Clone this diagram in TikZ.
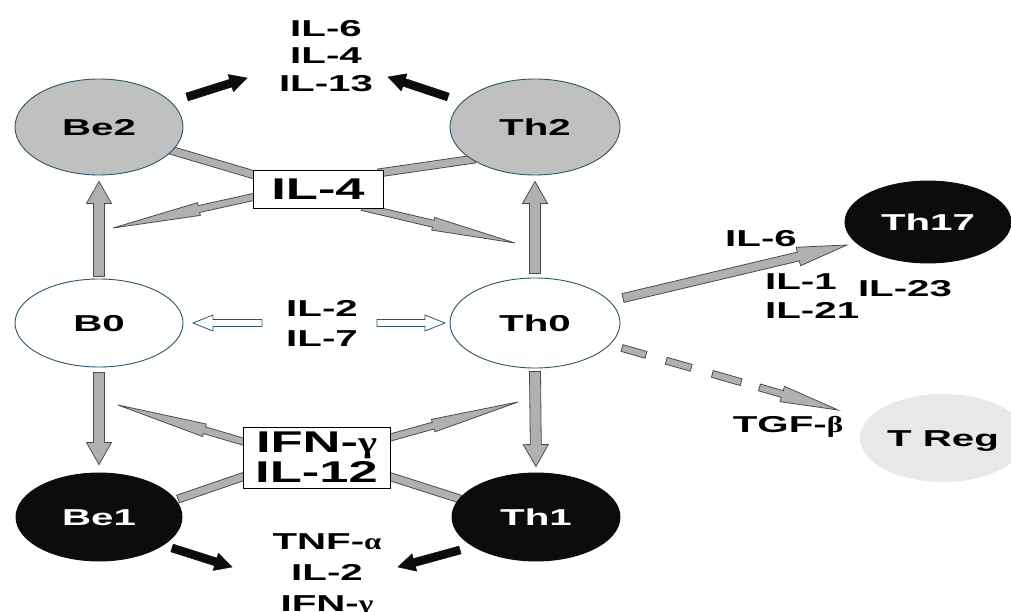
\documentclass[tikz,border=0pt]{standalone}
\usepackage{fontspec}
\setmainfont{Liberation Sans}[FakeStretch=1.75]
\newfontfamily\grk{Liberation Serif}[FakeStretch=1.35]
\newcommand\gk[1]{{\grk\bfseries #1}}
\usetikzlibrary{shapes.geometric,calc}
\pgfdeclarelayer{bg}\pgfsetlayers{bg,main}
\definecolor{cellg}{RGB}{192,192,192}
\definecolor{arrowg}{RGB}{176,176,176}
\definecolor{arrowedge}{RGB}{75,75,80}
\definecolor{edgec}{RGB}{45,85,105}
\definecolor{tregc}{RGB}{230,232,234}
\definecolor{darkc}{RGB}{12,12,12}
% block arrow: [style]{from}{to}{half shaft}{half head}{head length}
\newcommand\blockarrow[6]{%
  \coordinate (tmpH) at ($(#3)!#6!(#2)$);
  \draw[#1] ($(#2)!#4!90:(#3)$) -- ($(tmpH)!#4!-90:(#2)$) -- ($(tmpH)!#5!-90:(#2)$) -- (#3)
    -- ($(tmpH)!#5!90:(#2)$) -- ($(tmpH)!#4!90:(#2)$) -- ($(#2)!#4!-90:(#3)$) -- cycle;}
% band: [style]{from}{to}{half width}
\newcommand\band[4]{%
  \draw[#1] ($(#2)!#4!90:(#3)$) -- ($(#3)!#4!-90:(#2)$) -- ($(#3)!#4!90:(#2)$) -- ($(#2)!#4!-90:(#3)$) -- cycle;}
\begin{document}
\begin{tikzpicture}[x=1pt,y=-1pt,
  font=\fontsize{23}{27.5}\selectfont\bfseries,
  cell/.style={ellipse, draw=edgec, line width=0.9pt, inner sep=0pt, text height=16.5pt, text depth=0pt},
  lbl/.style={inner sep=0pt, align=center},
  boxlbl/.style={draw=black, line width=0.9pt, fill=white, inner sep=0pt, align=center, font=\fontsize{30}{30}\selectfont\bfseries},
  garrow/.style={fill=arrowg, draw=arrowedge, line width=0.8pt, line join=miter},
  karrow/.style={fill=darkc, draw=darkc, line width=0.5pt, line join=miter},
  warrow/.style={fill=white, draw=edgec, line width=0.8pt, line join=miter}]
\useasboundingbox (0,0) rectangle (1011,612);

% cells
\node[cell, fill=cellg, minimum width=168pt, minimum height=96pt] (Be2) at (99,127) {Be2};
\node[cell, fill=cellg, minimum width=170pt, minimum height=96pt] (Th2) at (535,127) {Th2};
\node[cell, fill=white, minimum width=168pt, minimum height=88pt] (B0) at (99,323) {B0};
\node[cell, fill=white, minimum width=170pt, minimum height=90pt] (Th0) at (535,323) {Th0};
\node[cell, fill=darkc, draw=darkc, text=white, minimum width=166pt, minimum height=88pt] (Be1) at (99,517) {Be1};
\node[cell, fill=darkc, draw=darkc, text=white, minimum width=168pt, minimum height=88pt] (Th1) at (536,517) {Th1};
\node[cell, fill=darkc, draw=darkc, text=white, minimum width=166pt, minimum height=82pt] (Th17) at (928,222) {Th17};
\node[cell, fill=tregc, draw=none, minimum width=166pt, minimum height=88pt] (TReg) at (943,438) {T Reg};

% boxes
\node[boxlbl, minimum width=130pt, minimum height=38pt] (IL4box) at (318,189) {IL-4};
\node[boxlbl, minimum width=147pt, minimum height=61pt] (IFNbox) at (316.5,457.5) {IFN-\gk{γ}\\IL-12};

% labels
\node[lbl, anchor=north] (top) at (326,20) {IL-6\\IL-4\\IL-13};
\node[lbl, anchor=north, font=\fontsize{23}{30.5}\selectfont\bfseries] (mid) at (322,300) {IL-2\\IL-7};
\node[lbl, anchor=north, font=\fontsize{23}{31}\selectfont\bfseries] (bot) at (327,533) {TNF-\gk{α}\\IL-2\\IFN-\gk{γ}};
\node[lbl, text height=16.5pt, text depth=0pt] (l6) at (761,238) {IL-6};
\node[lbl, text height=16.5pt, text depth=0pt, anchor=west] (l1) at (765,281) {IL-1};
\node[lbl, text height=16.5pt, text depth=0pt, anchor=west] (l21) at (765,310) {IL-21};
\node[lbl, text height=16.5pt, text depth=0pt] (l23) at (905,288) {IL-23};
\node[lbl, text height=16.5pt, text depth=0pt] (tgf) at (788,424) {TGF-\gk{β}};

\begin{pgfonlayer}{bg}
\fill[white] (0,0) rectangle (1011,612);
% black output arrows
\coordinate (be2o) at (187,97);  \coordinate (topl) at (247,78);
\coordinate (th2o) at (448,97);  \coordinate (topr) at (388,77);
\coordinate (be1o) at (172,548); \coordinate (botl) at (232,567);
\coordinate (th1o) at (460,550); \coordinate (botr) at (398,567);
\blockarrow{karrow}{be2o}{topl}{4pt}{9pt}{17pt}
\blockarrow{karrow}{th2o}{topr}{4pt}{9pt}{17pt}
\blockarrow{karrow}{be1o}{botl}{4pt}{9pt}{17pt}
\blockarrow{karrow}{th1o}{botr}{4pt}{9pt}{17pt}

% vertical gray arrows
\coordinate (b0t) at ($(B0.north)+(0,-2)$);  \coordinate (be2b) at ($(Be2.south)+(0,6)$);
\coordinate (th0t) at ($(Th0.north)+(0,-4)$); \coordinate (th2b) at ($(Th2.south)+(0,6)$);
\coordinate (b0b) at ($(B0.south)+(0,5)$);   \coordinate (be1t) at ($(Be1.north)+(0,-8)$);
\coordinate (th0b) at ($(Th0.south)+(0,3)$); \coordinate (th1t) at ($(Th1.north)+(0,-6)$);
\blockarrow{garrow}{b0t}{be2b}{5.5pt}{12.5pt}{22pt}
\blockarrow{garrow}{th0t}{th2b}{5.5pt}{12.5pt}{22pt}
\blockarrow{garrow}{b0b}{be1t}{5.5pt}{12.5pt}{22pt}
\blockarrow{garrow}{th0b}{th1t}{5.5pt}{12.5pt}{22pt}

% IL-4 bands and arrows
\coordinate (be2r) at (170,150); \coordinate (il4l) at (258,176);
\coordinate (th2l) at (475,159); \coordinate (il4r) at (378,173);
\band{garrow}{be2r}{il4l}{4pt}
\band{garrow}{th2l}{il4r}{4pt}
\coordinate (il4a) at (258,196); \coordinate (il4tipl) at (113,228);
\coordinate (il4b) at (362,207); \coordinate (il4tipr) at (515,243);
\blockarrow{garrow}{il4a}{il4tipl}{3.5pt}{6.5pt}{88pt}
\blockarrow{garrow}{il4b}{il4tipr}{3.5pt}{6.5pt}{84pt}

% IFN bands and arrows
\coordinate (ifnl) at (248,475); \coordinate (be1r) at (178,499);
\coordinate (ifnr) at (385,475); \coordinate (th1l) at (460,499);
\band{garrow}{ifnl}{be1r}{4pt}
\band{garrow}{ifnr}{th1l}{4pt}
\coordinate (ifna) at (248,443); \coordinate (ifntipl) at (118,405);
\coordinate (ifnb) at (385,439); \coordinate (ifntipr) at (518,402);
\blockarrow{garrow}{ifna}{ifntipl}{3.5pt}{6.5pt}{90pt}
\blockarrow{garrow}{ifnb}{ifntipr}{3.5pt}{6.5pt}{88pt}

% white arrows
\coordinate (il2l) at (262,323); \coordinate (b0r) at (193,323);
\coordinate (il2r) at (377,323); \coordinate (th0l) at (445,323);
\blockarrow{warrow}{il2l}{b0r}{3.5pt}{8pt}{20pt}
\blockarrow{warrow}{il2r}{th0l}{3.5pt}{8pt}{20pt}

% Th0 -> Th17
\coordinate (th0r) at (623,298); \coordinate (th17l) at (847,245);
\blockarrow{garrow}{th0r}{th17l}{4.5pt}{9.5pt}{50pt}

% Th0 -> T Reg (dashed)
\coordinate (s) at (622,348); \coordinate (t) at (838,410);
\coordinate (d1a) at ($(s)!0pt!(t)$);  \coordinate (d1b) at ($(s)!25pt!(t)$);
\coordinate (d2a) at ($(s)!46pt!(t)$); \coordinate (d2b) at ($(s)!72pt!(t)$);
\coordinate (d3a) at ($(s)!94pt!(t)$); \coordinate (d3b) at ($(s)!124pt!(t)$);
\coordinate (d4a) at ($(s)!143pt!(t)$);
\band{garrow}{d1a}{d1b}{3.5pt}
\band{garrow}{d2a}{d2b}{3.5pt}
\band{garrow}{d3a}{d3b}{3.5pt}
\blockarrow{garrow}{d4a}{t}{3.5pt}{8pt}{58pt}
\end{pgfonlayer}
\end{tikzpicture}
\end{document}
